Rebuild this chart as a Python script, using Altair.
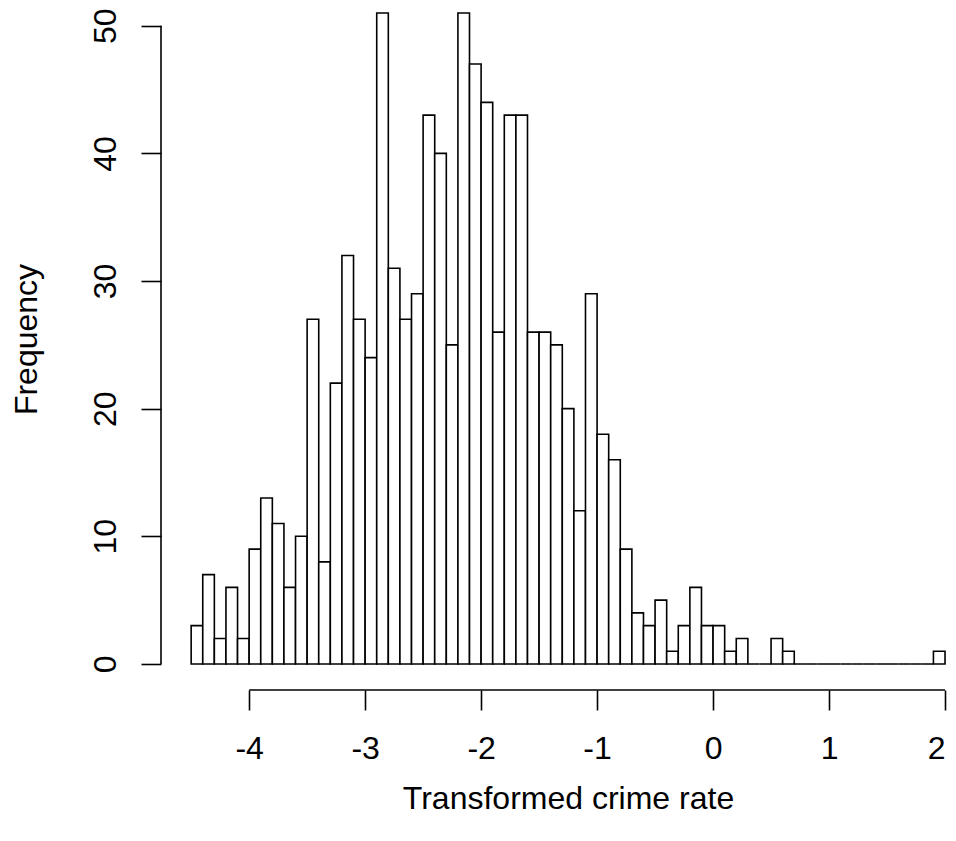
import altair as alt
import pandas as pd

# ---- data ----
bin_start = -4.5
bin_width = 0.1
counts = [3, 7, 2, 6, 2, 9, 13, 11, 6, 10,
          27, 8, 22, 32, 27, 24, 51, 31, 27, 29,
          43, 40, 25, 51, 47, 44, 26, 43, 43, 26,
          26, 25, 20, 12, 29, 18, 16, 9, 4, 3,
          5, 1, 3, 6, 3, 3, 1, 2, 0, 0,
          2, 1, 0, 0, 0, 0, 0, 0, 0, 0,
          0, 0, 0, 0, 1]
x_ticks = [-4, -3, -2, -1, 0, 1, 2]
y_ticks = [0, 10, 20, 30, 40, 50]
x_title = "Transformed crime rate"
y_title = "Frequency"

lefts = [round(bin_start + i * bin_width, 1) for i in range(len(counts))]
rights = [round(l + bin_width, 1) for l in lefts]
df = pd.DataFrame({"lo": lefts, "hi": rights, "n": counts, "zero": [0] * len(counts)})

# ---- layout ----
W, H = 786, 682
x_dom = [-4.76, 2.017]
y_dom = [-2.04, 51.39]
FONT = "Liberation Sans"
FS = 32
LW = 1.6

xs = alt.Scale(domain=x_dom, nice=False, zero=False)
ys = alt.Scale(domain=y_dom, nice=False, zero=False)

bars = alt.Chart(df).mark_bar(fill="white", stroke="black", strokeWidth=LW, opacity=1).encode(
    x=alt.X("lo:Q", scale=xs,
            axis=alt.Axis(values=x_ticks, title=x_title, domain=False, grid=False,
                          tickSize=20, tickColor="black", tickWidth=LW,
                          labelFont=FONT, labelFontSize=FS, labelColor="black",
                          labelPadding=48, labelBaseline="alphabetic",
                          labelFlush=3, labelFlushOffset=0, labelOverlap=False,
                          labelExpr="toString(datum.value)",
                          titleFont=FONT, titleFontSize=FS, titleFontWeight="normal",
                          titleColor="black", titleX=407, titleY=118,
                          titleAlign="center", titleBaseline="alphabetic")),
    x2="hi:Q",
    y=alt.Y("n:Q", scale=ys,
            axis=alt.Axis(values=y_ticks, title=y_title, domain=False, grid=False,
                          tickSize=20, tickColor="black", tickWidth=LW,
                          labelFont=FONT, labelFontSize=FS, labelColor="black",
                          labelAngle=270, labelAlign="center", labelBaseline="alphabetic",
                          labelPadding=26, labelFlush=False, labelOverlap=False,
                          labelExpr="toString(datum.value)",
                          titleFont=FONT, titleFontSize=FS, titleFontWeight="normal",
                          titleColor="black", titleAngle=270, titleX=-125, titleY=331,
                          titleAlign="center", titleBaseline="alphabetic")),
    y2="zero:Q",
)

x_axis_line = alt.Chart(pd.DataFrame({"a": [min(x_ticks)], "b": [max(x_ticks)]})).mark_rule(
    color="black", strokeWidth=LW).encode(
    x=alt.X("a:Q", scale=xs), x2="b:Q", y=alt.datum(y_dom[0], scale=ys))

y_axis_line = alt.Chart(pd.DataFrame({"a": [min(y_ticks)], "b": [max(y_ticks)]})).mark_rule(
    color="black", strokeWidth=LW).encode(
    y=alt.Y("a:Q", scale=ys), y2="b:Q", x=alt.datum(x_dom[0], scale=xs))

chart = alt.layer(bars, x_axis_line, y_axis_line).properties(
    width=W, height=H,
    autosize=alt.AutoSizeParams(type="none"),
    padding={"left": 153, "top": 0, "right": 0, "bottom": 132},
    background="white",
).configure_view(stroke=None)

chart.save("out.html", embed_options={"renderer": "svg", "actions": False})
